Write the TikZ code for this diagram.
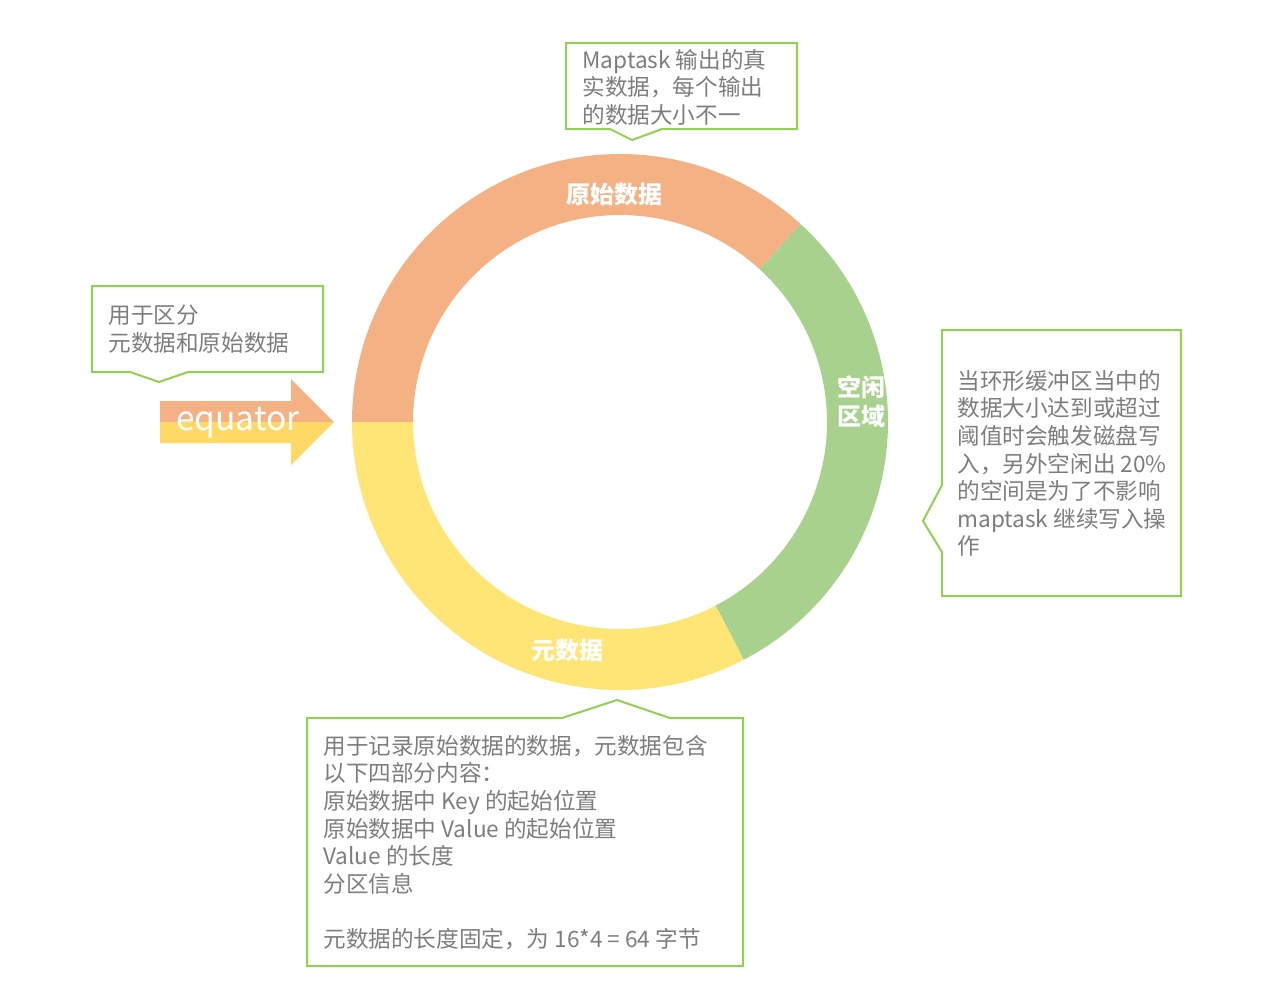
\documentclass[tikz,border=0pt]{standalone}
\usepackage{fontspec}
\setmainfont{Noto Sans CJK SC}
\usetikzlibrary{positioning}
\definecolor{segorange}{RGB}{244,177,132}
\definecolor{seggreen}{RGB}{169,209,142}
\definecolor{segyellow}{RGB}{255,229,117}
\definecolor{arrowyellow}{RGB}{255,217,102}
\definecolor{noteline}{RGB}{146,208,80}
\definecolor{notegray}{RGB}{125,125,125}

\begin{document}
\begin{tikzpicture}[x=0.5pt, y=0.5pt,
  note/.style={draw=noteline, line width=1pt, line join=miter},
  notetext/.style={text=notegray, font=\fontsize{11.3}{13.8}\selectfont, align=left, anchor=west, inner sep=0pt},
  seglabel/.style={text=white, font=\bfseries\fontsize{12}{14.5}\selectfont, align=center, inner sep=0pt}]
\useasboundingbox (0,0) rectangle (1272,-1002);
\def\Ro{268}
\def\Ri{207}
\def\ga{47.6}
\def\gb{-62.5}
% the ring buffer, three parts
\begin{scope}[shift={(620,-422)}]
\fill[segorange] (\ga:\Ro) arc (\ga:180:\Ro) -- (180:\Ri) arc (180:\ga:\Ri) -- cycle;
\fill[seggreen] (\gb:\Ro) arc (\gb:\ga:\Ro) -- (\ga:\Ri) arc (\ga:\gb:\Ri) -- cycle;
\fill[segyellow] (180:\Ro) arc (180:360+\gb:\Ro) -- (360+\gb:\Ri) arc (360+\gb:180:\Ri) -- cycle;
\end{scope}
\node[seglabel] (raw) at (614,-194) {原始数据};
\node[seglabel] (free) at (861,-402) {空闲\\区域};
\node[seglabel] (meta) at (567,-650) {元数据};
% equator arrow, orange above and yellow below
\fill[segorange] (160,-401) -- (291,-401) -- (291,-379) -- (334,-422) -- (160,-422) -- cycle;
\fill[arrowyellow] (160,-422) -- (334,-422) -- (291,-465) -- (291,-443) -- (160,-443) -- cycle;
\node[text=white, font=\fontsize{16.8}{18}\selectfont, inner sep=0pt] (equator) at (238,-423) {equator};
% callouts
\draw[note] (566,-43) -- (797,-43) -- (797,-129) -- (662,-129) -- (632,-140) -- (610,-129) -- (566,-129) -- cycle;
\node[notetext] (rawnote) at (582,-87) {Maptask 输出的真\\实数据，每个输出\\的数据大小不一};
\draw[note] (92,-286) -- (323,-286) -- (323,-372) -- (188,-372) -- (159,-382) -- (130,-372) -- (92,-372) -- cycle;
\node[notetext] (eqnote) at (108,-329) {用于区分\\元数据和原始数据};
\draw[note] (942,-330) -- (1181,-330) -- (1181,-596) -- (942,-596) -- (942,-552) -- (923,-521) -- (942,-485) -- cycle;
\node[notetext] (freenote) at (957,-463.5) {当环形缓冲区当中的\\数据大小达到或超过\\阈值时会触发磁盘写\\入，另外空闲出 20\%\\的空间是为了不影响\\maptask 继续写入操\\作};
\draw[note] (307,-718) -- (562,-718) -- (617,-700) -- (670,-718) -- (743,-718) -- (743,-966) -- (307,-966) -- cycle;
\node[notetext] (metanote) at (323,-842.5) {用于记录原始数据的数据，元数据包含\\以下四部分内容：\\原始数据中 Key 的起始位置\\原始数据中 Value 的起始位置\\Value 的长度\\分区信息\\[13.8pt]元数据的长度固定，为 16*4 = 64 字节};
\end{tikzpicture}
\end{document}
